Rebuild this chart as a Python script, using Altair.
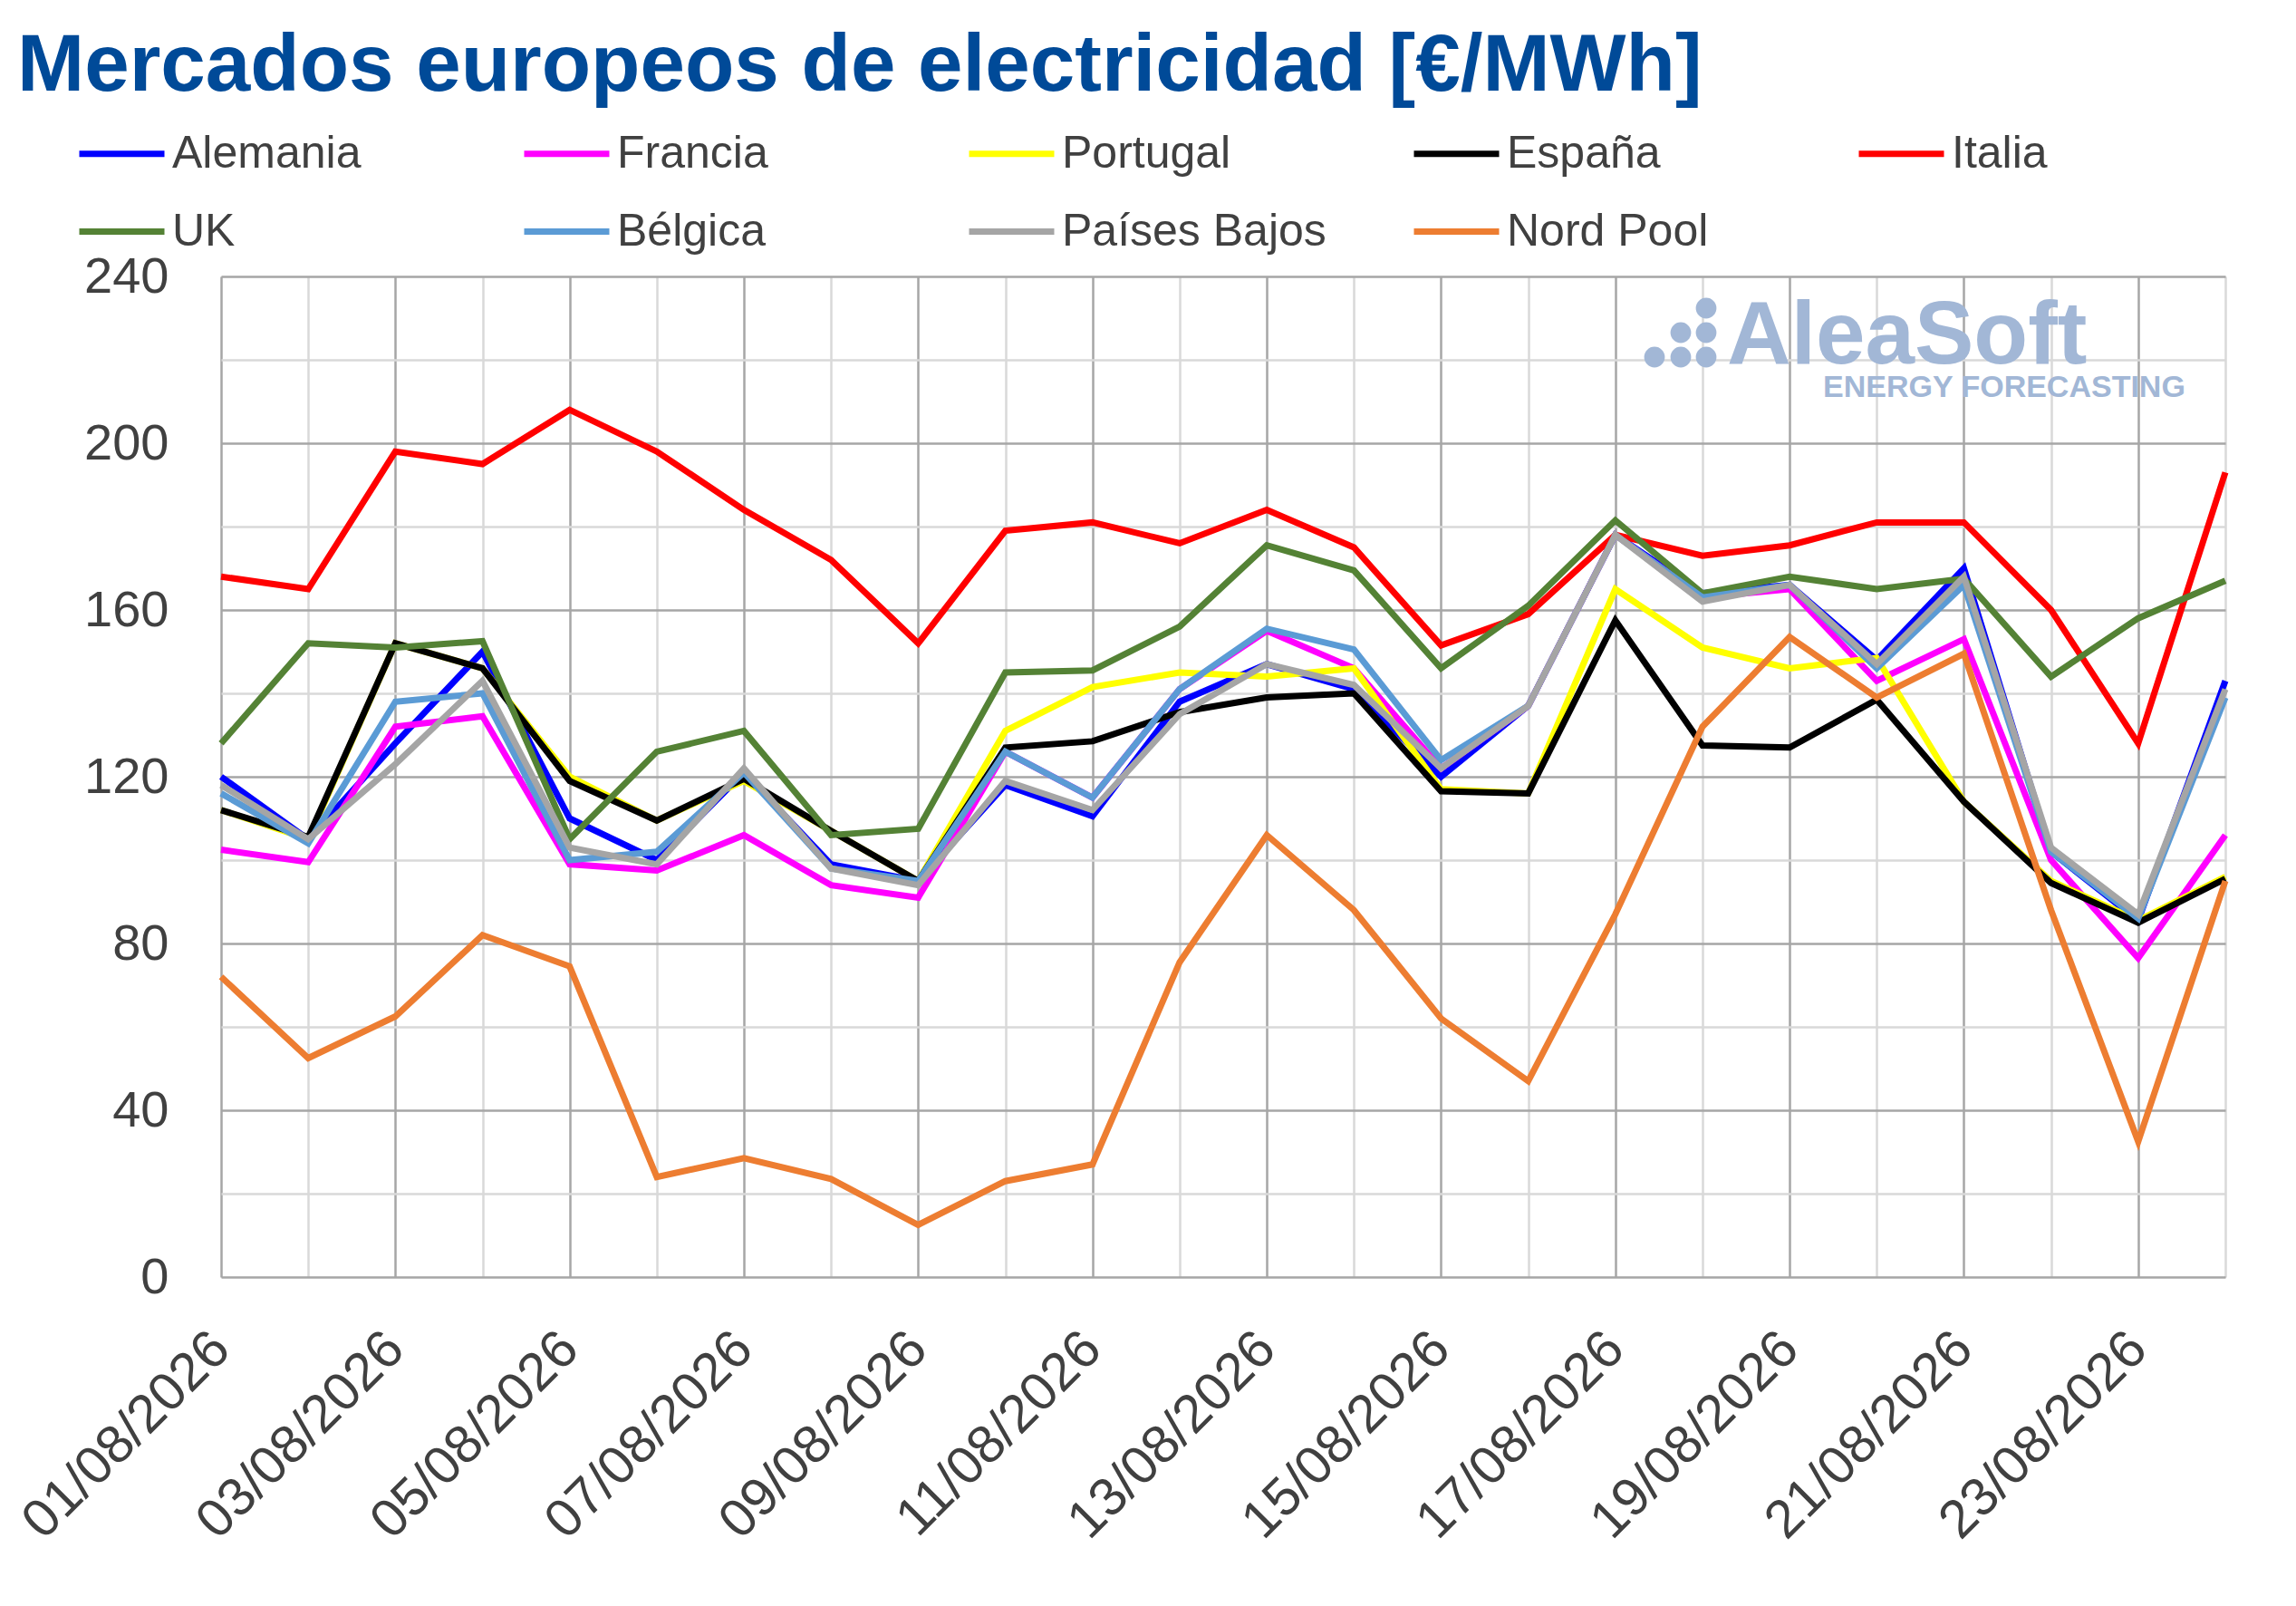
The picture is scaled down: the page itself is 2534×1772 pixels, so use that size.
import altair as alt
import pandas as pd

dates = ["01/08/2026", "02/08/2026", "03/08/2026", "04/08/2026", "05/08/2026", "06/08/2026",
         "07/08/2026", "08/08/2026", "09/08/2026", "10/08/2026", "11/08/2026", "12/08/2026",
         "13/08/2026", "14/08/2026", "15/08/2026", "16/08/2026", "17/08/2026", "18/08/2026",
         "19/08/2026", "20/08/2026", "21/08/2026", "22/08/2026", "23/08/2026", "24/08/2026"]

alemania = [120, 105, 128, 150, 110, 100, 121, 99, 95, 118, 110.5, 138, 147, 141, 120, 137,
            178, 164, 166, 148, 170, 102, 85.5, 143]
francia = [102.5, 99.5, 132, 134.5, 99, 97.5, 106, 94, 91, 126, 115, 141, 155, 146, 122, 137,
           178, 163, 165, 143, 153, 100, 76.5, 106]
portugal = [112, 105, 152, 146, 120, 109.5, 119, 107, 95, 131, 141.5, 145, 144, 146, 117, 116,
            165, 151, 146, 148.5, 114, 95, 85.5, 96]
espana = [112, 105.5, 152, 146, 119, 109.5, 119.5, 107, 95, 127, 128.5, 135.5, 139, 140, 116.5, 116,
          157.5, 127.5, 127, 138.5, 114, 94.5, 85, 95.5]
italia = [168, 165, 198, 195, 208, 198, 184, 172, 152, 179, 181, 176, 184, 175, 151.5, 159,
          178, 173, 175.5, 181, 181, 160, 128, 193]
uk = [128, 152, 151, 152.5, 105, 126, 131, 106, 107.5, 145, 145.5, 156, 175.5, 169.5, 146, 161,
      181.5, 164, 168, 165, 167.5, 144, 158, 167]
belgica = [116, 104, 138, 140, 100, 102, 121, 98, 95, 126, 115, 141, 155.5, 150.5, 124, 137,
           178, 163, 166, 146, 166, 102, 86, 139]
paises_bajos = [118, 105, 123, 143, 103, 99, 122, 98, 94, 119, 112, 135, 147, 142, 122, 137,
                178, 162, 166, 147, 168, 103, 87, 141]
nord_pool = [72, 52.5, 62.5, 82, 74.5, 24, 28.5, 23.5, 12.5, 23, 27, 75.5, 106, 88, 62, 47,
             87, 132, 153.5, 139, 149.5, 88, 32.5, 95]

series_names = ["Alemania", "Francia", "Portugal", "España", "Italia",
                "UK", "Bélgica", "Países Bajos", "Nord Pool"]
series_values = [alemania, francia, portugal, espana, italia, uk, belgica, paises_bajos, nord_pool]
series_colors = ["#0000FF", "#FF00FF", "#FFFF00", "#000000", "#FF0000",
                 "#548235", "#5B9BD5", "#A5A5A5", "#ED7D31"]

# watermark logo (decorative dots, pixel offsets inside the plot area)
logo_dot_x = [1639, 1639, 1639, 1611, 1611, 1582]
logo_dot_y = [35, 62, 89, 62, 89, 89]

rows = []
for name, vals in zip(series_names, series_values):
    for d, v in zip(dates, vals):
        rows.append({"fecha": d, "mercado": name, "precio": v})
df = pd.DataFrame(rows)

FONT = "Liberation Sans"
GRID_DARK = "#A6A6A6"
GRID_LIGHT = "#D9D9D9"
WM_COLOR = "#A2B7D6"

lines = alt.Chart(df).mark_line(strokeWidth=7).encode(
    x=alt.X("fecha:O", sort=dates, scale=alt.Scale(type="point", padding=0),
            axis=alt.Axis(
                title=None, grid=True, ticks=False, domain=False,
                labelExpr="toNumber(substring(datum.value, 0, 2)) % 2 === 1 ? datum.value : ''",
                labelAngle=-45, labelAlign="right", labelBaseline="top",
                labelPadding=49, labelOffset=-21, labelFontSize=59, labelColor="#404040",
                labelFont=FONT, labelOverlap=False, labelLimit=600,
                gridColor={"condition": {"test": "toNumber(substring(datum.value, 0, 2)) % 2 === 1",
                                         "value": GRID_DARK}, "value": GRID_LIGHT},
                gridWidth=2.5)),
    y=alt.Y("precio:Q", scale=alt.Scale(domain=[0, 240], nice=False),
            axis=alt.Axis(
                title=None, values=list(range(0, 241, 20)), ticks=False, domain=False,
                labelExpr="datum.value % 40 === 0 ? datum.label : ''",
                labelPadding=58, labelFontSize=56, labelColor="#404040", labelFont=FONT,
                gridColor={"condition": {"test": "datum.value % 40 === 0", "value": GRID_DARK},
                           "value": GRID_LIGHT},
                gridWidth=2.5)),
    color=alt.Color("mercado:N", sort=series_names,
                    scale=alt.Scale(domain=series_names, range=series_colors),
                    legend=alt.Legend(
                        title=None, orient="none", legendX=-160, legendY=-186,
                        direction="horizontal", columns=5, gridAlign="all",
                        columnPadding=82, rowPadding=10,
                        symbolType="stroke", symbolSize=8836, symbolStrokeWidth=7,
                        labelFontSize=50, labelColor="#404040", labelFont=FONT,
                        labelOffset=5, labelLimit=400)),
)

wm_df = pd.DataFrame({"brand": ["AleaSoft"], "tag": ["ENERGY FORECASTING"]})
wm1 = alt.Chart(wm_df).mark_text(
    font=FONT, fontWeight="bold", fontSize=98, color=WM_COLOR,
    align="left", baseline="alphabetic").encode(
    text="brand:N", x=alt.value(1662), y=alt.value(96))
wm2 = alt.Chart(wm_df).mark_text(
    font=FONT, fontWeight="bold", fontSize=34, color=WM_COLOR,
    align="left", baseline="alphabetic").encode(
    text="tag:N", x=alt.value(1768), y=alt.value(133))
logo_df = pd.DataFrame({"px": logo_dot_x, "py": logo_dot_y})
wm3 = alt.Chart(logo_df).mark_circle(size=520, color=WM_COLOR, opacity=1).encode(
    x=alt.X("px:Q", scale=None), y=alt.Y("py:Q", scale=None))

chart = alt.layer(wm1, wm2, wm3, lines).properties(
    width=2212, height=1104,
    autosize=alt.AutoSizeParams(type="none"),
    padding={"left": 236, "top": 297, "right": 60, "bottom": 340},
    title=alt.TitleParams(
        "Mercados europeos de electricidad [€/MWh]",
        anchor="start", frame="group", fontSize=89, font=FONT, fontWeight="bold",
        color="#004A98", dx=-225, dy=70, baseline="alphabetic", offset=0),
).configure_view(stroke=GRID_LIGHT, strokeWidth=3).configure(background="white")

chart.save("out.html", embed_options={"renderer": "svg", "actions": False})
